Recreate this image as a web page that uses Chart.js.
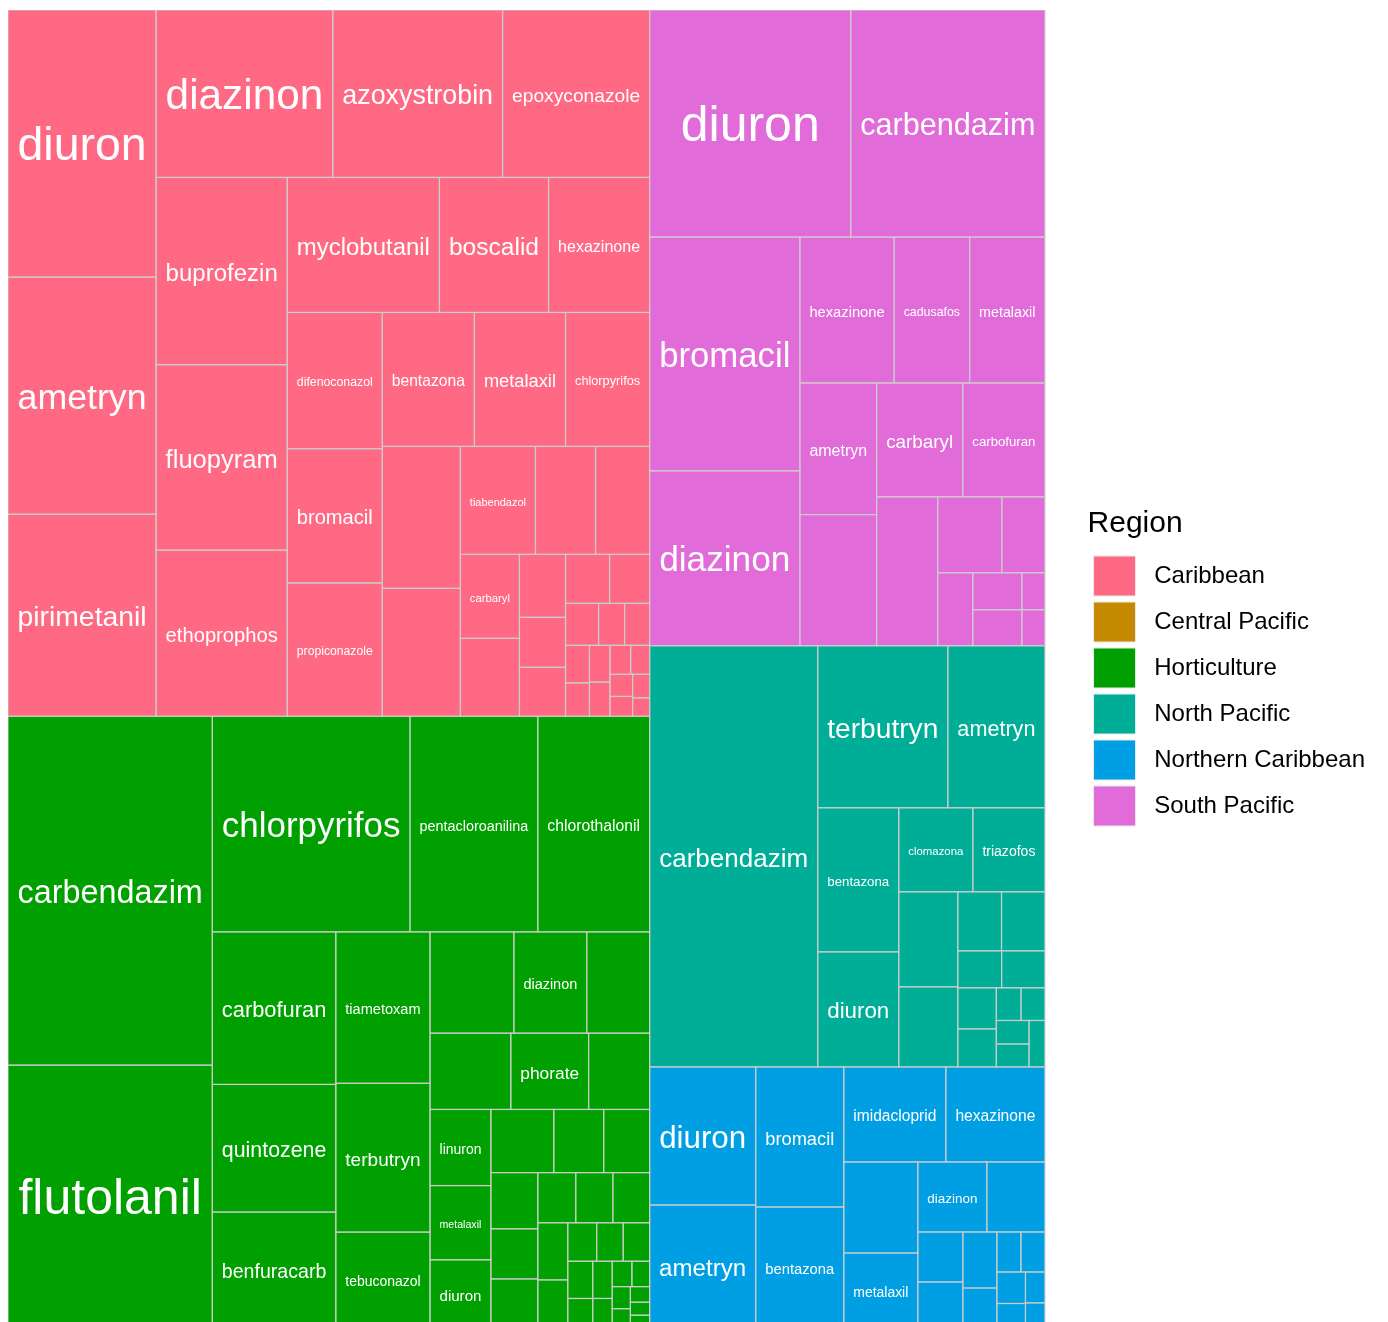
<!DOCTYPE html>
<html>
<head>
<meta charset="utf-8">
<title>Pesticides detected by region</title>
<script src="https://cdn.jsdelivr.net/npm/chart.js@4.4.1/dist/chart.umd.min.js"></script>
<style>
  html, body { margin: 0; padding: 0; background: #ffffff; }
  #chart { display: block; }
</style>
</head>
<body>
<canvas id="chart" width="1388" height="1322"></canvas>
<script>
// Regions and their fill colours (legend order)
const regions = ['Caribbean', 'Central Pacific', 'Horticulture', 'North Pacific', 'Northern Caribbean', 'South Pacific'];
const regionColors = ['#FF6983', '#C68A00', '#00A000', '#00AE98', '#009FE3', '#E16BD9'];

// Cell sizes (relative units), empty name = unlabeled cell
const caribbeanNames = ['diuron', 'ametryn', 'pirimetanil', 'diazinon', 'azoxystrobin', 'epoxyconazole',
  'buprofezin', 'fluopyram', 'ethoprophos', 'myclobutanil', 'boscalid', 'hexazinone',
  'difenoconazol', 'bromacil', 'propiconazole', 'bentazona', 'metalaxil', 'chlorpyrifos',
  '', '', 'tiabendazol', '', '', 'carbaryl', '', '', '', '', '', '', '', '', '',
  '', '', '', '', '', '', '', '', '', ''];
const caribbeanValues = [39516, 35076, 29896, 29559, 28390, 24600,
  24550, 24300, 21780, 20520, 14715, 13635,
  12920, 12730, 12650, 12328, 12194, 11256,
  11076, 9984, 8100, 6480, 5832, 4956, 4602, 2898, 2300, 2254, 2156, 1960, 1386, 1092, 1050,
  900, 800, 750, 700, 600, 550, 500, 450, 400, 314];

const centralPacificNames = [];
const centralPacificValues = [];

const horticultureNames = ['carbendazim', 'flutolanil', 'chlorpyrifos', 'pentacloroanilina', 'chlorothalonil',
  'carbofuran', 'quintozene', 'benfuracarb', 'tiametoxam', 'terbutryn', 'tebuconazol',
  '', 'diazinon', '', '', 'phorate', '', 'linuron', 'metalaxil', 'diuron',
  '', '', '', '', '', '', '', '', '', '', '', '', '', '', '', '', '', '', '', '', '', '', '', '', ''];
const horticultureValues = [71196, 53652, 42570, 27520, 24080,
  18819, 15744, 14300, 14250, 14006, 9024,
  8484, 7373, 6363, 6156, 5928, 4650, 4630, 4514, 4148,
  3969, 3150, 2898, 2632, 2350, 2300, 1900, 1860, 1840, 1710, 1440, 1110, 1020, 1015, 928, 736, 725, 575,
  500, 450, 400, 350, 300, 250, 246];

const northPacificNames = ['carbendazim', 'terbutryn', 'ametryn', 'bentazona', 'diuron', 'clomazona', 'triazofos',
  '', '', '', '', '', '', '', '', '', '', '', '', ''];
const northPacificValues = [70728, 21060, 15714, 11664, 9315, 6216, 6048,
  5605, 4720, 2580, 2560, 1620, 1600, 1580, 1464, 806, 780, 770, 750, 737];

const northernCaribbeanNames = ['diuron', 'ametryn', 'bromacil', 'bentazona', 'imidacloprid', 'hexazinone',
  '', 'metalaxil', 'diazinon', '', '', '', '', '', '', '', '', '', '', ''];
const northernCaribbeanValues = [14628, 13038, 12320, 10648, 9690, 9405,
  6734, 5550, 4830, 4060, 2250, 2070, 1904, 1360, 960, 960, 900, 700, 600, 488];

const southPacificNames = ['diuron', 'carbendazim', 'bromacil', 'diazinon', 'hexazinone', 'cadusafos', 'metalaxil',
  'ametryn', '', 'carbaryl', 'carbofuran', '', '', '', '', '', '', '', ''];
const southPacificValues = [45627, 44038, 35100, 26250, 13724, 11000, 10980,
  10087, 10050, 9804, 9348, 9089, 4864, 3268, 2555, 1813, 1764, 851, 828];

const regionNames = [caribbeanNames, centralPacificNames, horticultureNames,
  northPacificNames, northernCaribbeanNames, southPacificNames];
const regionValues = [caribbeanValues, centralPacificValues, horticultureValues,
  northPacificValues, northernCaribbeanValues, southPacificValues];

const FONT = '"Liberation Sans", Arial, Helvetica, sans-serif';
const X_MAX = 1.0411;          // treemap spans 0..1, the rest is room before the legend
const Y_MAX = 1312 / 1318;     // bottom strip of the treemap falls below the canvas

// --- squarified layout in a unit square ---
function worstRatio(row, side) {
  const s = row.reduce((a, b) => a + b, 0);
  const max = Math.max(...row);
  const min = Math.min(...row);
  return Math.max(side * side * max / (s * s), (s * s) / (side * side * min));
}

function squarify(areas, rect) {
  const boxes = [];
  let { x, y, w, h } = rect;
  let i = 0;
  while (i < areas.length) {
    const alongHeight = w >= h;
    const side = alongHeight ? h : w;
    const row = [areas[i]];
    let j = i + 1;
    while (j < areas.length && worstRatio(row.concat(areas[j]), side) <= worstRatio(row, side)) {
      row.push(areas[j]);
      j++;
    }
    const thick = row.reduce((a, b) => a + b, 0) / side;
    let offset = 0;
    row.forEach(a => {
      const len = a / thick;
      boxes.push(alongHeight
        ? { x: x, y: y + offset, w: thick, h: len }
        : { x: x + offset, y: y, w: len, h: thick });
      offset += len;
    });
    if (alongHeight) { x += thick; w -= thick; } else { y += thick; h -= thick; }
    i = j;
  }
  return boxes;
}

const totals = regionValues.map(v => v.reduce((a, b) => a + b, 0));
const grandTotal = totals.reduce((a, b) => a + b, 0);
const groupOrder = regions.map((r, i) => i).filter(i => totals[i] > 0).sort((a, b) => totals[b] - totals[a]);
const groupBoxes = squarify(groupOrder.map(i => totals[i] / grandTotal), { x: 0, y: 0, w: 1, h: 1 });

const cells = [];
groupOrder.forEach((g, k) => {
  const box = groupBoxes[k];
  const values = regionValues[g];
  const idx = values.map((v, i) => i).sort((a, b) => values[b] - values[a]);
  const scale = box.w * box.h / totals[g];
  const sub = squarify(idx.map(i => values[i] * scale), box);
  sub.forEach((b, n) => {
    cells.push({ x: b.x, y: b.y, w: b.w, h: b.h, color: regionColors[g], name: regionNames[g][idx[n]] });
  });
});

// draws the cells through the chart's x / y scales
const treemapPlugin = {
  id: 'treemap',
  afterDatasetsDraw(chart) {
    const { ctx, chartArea, scales: { x, y } } = chart;
    ctx.save();
    ctx.beginPath();
    ctx.rect(chartArea.left, chartArea.top, chartArea.width, chartArea.height);
    ctx.clip();

    const rects = cells.map(c => {
      const left = x.getPixelForValue(c.x);
      const right = x.getPixelForValue(c.x + c.w);
      const top = y.getPixelForValue(c.y);
      const bottom = y.getPixelForValue(c.y + c.h);
      return { left, top, width: right - left, height: bottom - top, cell: c };
    });

    rects.forEach(r => {
      ctx.fillStyle = r.cell.color;
      ctx.fillRect(r.left, r.top, r.width, r.height);
    });
    ctx.strokeStyle = 'rgba(205, 205, 205, 0.85)';
    ctx.lineWidth = 1.2;
    rects.forEach(r => ctx.strokeRect(r.left, r.top, r.width, r.height));

    // labels grow to fill the cell width, capped
    const pad = 9.5;
    ctx.fillStyle = '#ffffff';
    ctx.textAlign = 'center';
    ctx.textBaseline = 'middle';
    rects.forEach(r => {
      if (!r.cell.name) return;
      ctx.font = '100px ' + FONT;
      const unit = ctx.measureText(r.cell.name).width / 100;
      const size = Math.min((r.width - 2 * pad) / unit, (r.height - 2 * pad) / 1.1, 50);
      if (size < 4) return;
      ctx.font = size.toFixed(2) + 'px ' + FONT;
      ctx.fillText(r.cell.name, r.left + r.width / 2, r.top + r.height / 2 + 2 + 0.04 * size);
    });
    ctx.restore();
  }
};

const chart = new Chart(document.getElementById('chart').getContext('2d'), {
  type: 'scatter',
  data: {
    datasets: regions.map((name, i) => ({
      label: name,
      data: [],
      backgroundColor: regionColors[i],
      borderColor: '#e9e9e9',
      borderWidth: 1
    }))
  },
  options: {
    responsive: false,
    animation: false,
    events: [],
    layout: { padding: { left: 8, top: 10, right: 13, bottom: 0 } },
    scales: {
      x: { type: 'linear', min: 0, max: X_MAX, display: false },
      y: { type: 'linear', min: 0, max: Y_MAX, reverse: true, display: false }
    },
    plugins: {
      tooltip: { enabled: false },
      legend: {
        position: 'right',
        align: 'center',
        title: {
          display: true,
          text: 'Region',
          position: 'start',
          color: '#000000',
          font: { family: FONT, size: 30 },
          padding: { top: 9, bottom: 5 }
        },
        labels: {
          boxWidth: 42,
          boxHeight: 40,
          padding: 6,
          color: '#1a1a1a',
          font: { family: FONT, size: 24 },
          generateLabels: c => c.data.datasets.map((d, i) => ({
            text: ' ' + d.label,
            fillStyle: d.backgroundColor,
            strokeStyle: d.borderColor,
            lineWidth: d.borderWidth,
            hidden: false,
            datasetIndex: i
          }))
        }
      }
    }
  },
  plugins: [treemapPlugin]
});
</script>
</body>
</html>
